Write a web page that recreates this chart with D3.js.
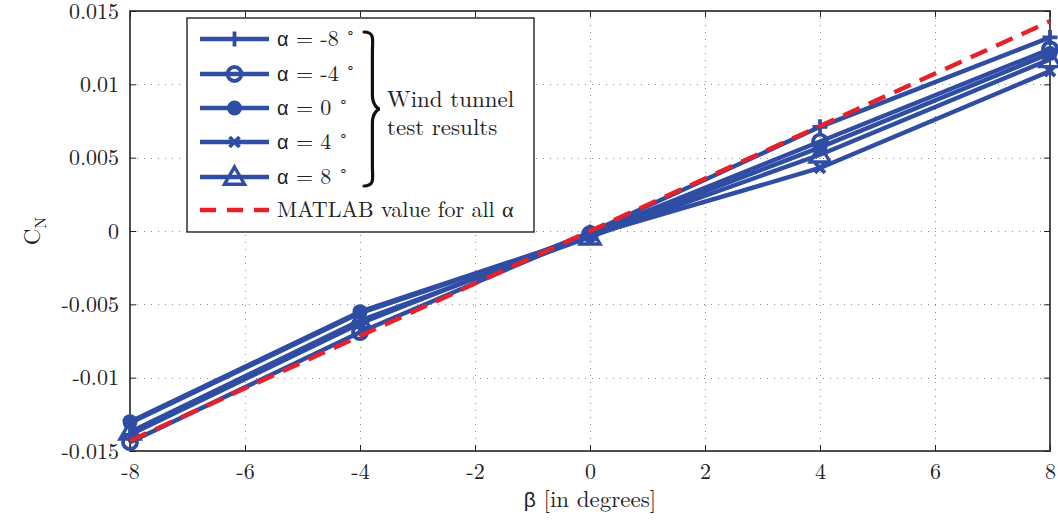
<!DOCTYPE html>
<html>
<head>
<meta charset="utf-8">
<script src="https://cdn.jsdelivr.net/npm/d3@7"></script>
<style>
  html, body { margin: 0; padding: 0; background: #fff; }
  svg { display: block; }
</style>
</head>
<body>
<script>
// Side-force coefficient vs. sideslip angle
const betaDeg = [-8, -4, 0, 4, 8];
const xTicks = [-8, -6, -4, -2, 0, 2, 4, 6, 8];
const xTickLabels = ["-8", "-6", "-4", "-2", "0", "2", "4", "6", "8"];
const yTicks = [-0.015, -0.01, -0.005, 0, 0.005, 0.01, 0.015];
const yTickLabels = ["-0.015", "-0.01", "-0.005", "0", "0.005", "0.01", "0.015"];

const alphaLabels = ["-8", "-4", "0", "4", "8"];
const markerKinds = ["plus", "ocircle", "circle", "cross", "triangle"];
const cnAlphaM8 = [-0.0139, -0.0063, -0.0001, 0.0071, 0.0132];
const cnAlphaM4 = [-0.0144, -0.0069, -0.0002, 0.0061, 0.0124];
const cnAlpha0  = [-0.0130, -0.0055, -0.0003, 0.0057, 0.0121];
const cnAlpha4  = [-0.0131, -0.0056, -0.0003, 0.0043, 0.0109];
const cnAlpha8  = [-0.0137, -0.0061, -0.0004, 0.0052, 0.0117];
const cnMatlab  = [-0.0143, -0.00716, 0, 0.00716, 0.0143];

const windSeries = [cnAlphaM8, cnAlphaM4, cnAlpha0, cnAlpha4, cnAlpha8];

const W = 1058, H = 521;
const M = { left: 130, right: 8, top: 11, bottom: 70 };
const blue = "#2e4da3", red = "#e8202a", ink = "#222";
const SERIF = "'Latin Modern Roman', 'Liberation Serif', serif";
const SANS = "'Liberation Sans', 'DejaVu Sans', sans-serif";

const svg = d3.select("body").append("svg").attr("width", W).attr("height", H);

const x = d3.scaleLinear().domain([-8, 8]).range([M.left, W - M.right]);
const y = d3.scaleLinear().domain([-0.015, 0.015]).range([H - M.bottom, M.top]);

const x0 = x.range()[0], x1 = x.range()[1], y0 = y.range()[0], y1 = y.range()[1];

function serifText(sel, size) {
  return sel.style("font-family", SERIF).style("font-size", size + "px").attr("fill", ink);
}

// dotted grid
const grid = svg.append("g").attr("stroke", "#888").attr("stroke-width", 1)
  .attr("stroke-dasharray", "1,6");
grid.selectAll(".gx").data(xTicks.slice(1, -1)).join("line")
  .attr("x1", d => Math.round(x(d)) + 0.5).attr("x2", d => Math.round(x(d)) + 0.5)
  .attr("y1", y1).attr("y2", y0);
grid.selectAll(".gy").data(yTicks.slice(1, -1)).join("line")
  .attr("y1", d => Math.round(y(d)) + 0.5).attr("y2", d => Math.round(y(d)) + 0.5)
  .attr("x1", x0).attr("x2", x1);

// axes with inward ticks
const xAxis = d3.axisBottom(x).tickValues(xTicks).tickSize(-6).tickPadding(12)
  .tickFormat((d, i) => xTickLabels[i]);
const gx = svg.append("g").attr("transform", `translate(0,${y0})`).call(xAxis);
const yAxis = d3.axisLeft(y).tickValues(yTicks).tickSize(-6).tickPadding(11)
  .tickFormat((d, i) => yTickLabels[i]);
const gy = svg.append("g").attr("transform", `translate(${x0},0)`).call(yAxis);
// mirrored ticks on top and right
svg.append("g").attr("transform", `translate(0,${y1})`)
  .call(d3.axisTop(x).tickValues(xTicks).tickSize(-6).tickFormat(""));
svg.append("g").attr("transform", `translate(${x1},0)`)
  .call(d3.axisRight(y).tickValues(yTicks).tickSize(-6).tickFormat(""));
svg.selectAll(".domain").remove();
svg.selectAll(".tick line").attr("stroke", ink);
[gx, gy].forEach(g => serifText(g.selectAll(".tick text"), 22));

// axes box
svg.append("rect").attr("x", x0).attr("y", y1).attr("width", x1 - x0).attr("height", y0 - y1)
  .attr("fill", "none").attr("stroke", ink).attr("stroke-width", 1.6);

// marker drawing
function drawMarker(g, kind, cx, cy) {
  if (kind === "plus") {
    g.append("path").attr("d", `M${cx - 7.5},${cy}H${cx + 7.5}M${cx},${cy - 7.5}V${cy + 7.5}`)
      .attr("stroke", blue).attr("stroke-width", 3.8).attr("fill", "none");
  } else if (kind === "ocircle") {
    g.append("circle").attr("cx", cx).attr("cy", cy).attr("r", 7)
      .attr("fill", "none").attr("stroke", blue).attr("stroke-width", 3.8);
  } else if (kind === "circle") {
    g.append("circle").attr("cx", cx).attr("cy", cy).attr("r", 7.5).attr("fill", blue);
  } else if (kind === "cross") {
    const a = 5;
    g.append("path").attr("d", `M${cx - a},${cy - a}L${cx + a},${cy + a}M${cx - a},${cy + a}L${cx + a},${cy - a}`)
      .attr("stroke", blue).attr("stroke-width", 3.8).attr("fill", "none");
  } else if (kind === "triangle") {
    const a = 10;
    g.append("path").attr("d", `M${cx},${cy - a}L${cx + a},${cy + a * 0.72}L${cx - a},${cy + a * 0.72}Z`)
      .attr("stroke", blue).attr("stroke-width", 3.4).attr("fill", "none");
  }
}

const line = d3.line().x((d, i) => x(betaDeg[i])).y(d => y(d));

// wind tunnel series
const plot = svg.append("g");
windSeries.forEach((vals, si) => {
  const g = plot.append("g");
  g.append("path").datum(vals).attr("d", line)
    .attr("fill", "none").attr("stroke", blue).attr("stroke-width", 4.4)
    .attr("stroke-linejoin", "round");
  vals.forEach((v, i) => drawMarker(g, markerKinds[si], x(betaDeg[i]), y(v)));
});

// MATLAB prediction
svg.append("path").datum(cnMatlab).attr("d", line)
  .attr("fill", "none").attr("stroke", red).attr("stroke-width", 4.4)
  .attr("stroke-dasharray", "18,10");

// axis titles
const xl = serifText(svg.append("text"), 23).attr("x", (x0 + x1) / 2).attr("y", 507)
  .attr("text-anchor", "middle");
xl.append("tspan").style("font-family", SANS).style("font-size", "21px").text("β");
xl.append("tspan").text(" [in degrees]");
const yl = serifText(svg.append("text"), 23).attr("transform", `translate(40,${y(0)}) rotate(-90)`)
  .attr("text-anchor", "middle");
yl.append("tspan").text("C");
yl.append("tspan").attr("dy", 6).style("font-size", "16px").text("N");

// legend
const lg = svg.append("g");
lg.append("rect").attr("x", 187).attr("y", 18).attr("width", 347).attr("height", 214)
  .attr("fill", "#fff").attr("stroke", ink).attr("stroke-width", 1.4);
const rowY = [39, 74, 108, 142, 177];
alphaLabels.forEach((a, i) => {
  const cy = rowY[i];
  lg.append("line").attr("x1", 200).attr("x2", 269).attr("y1", cy).attr("y2", cy)
    .attr("stroke", blue).attr("stroke-width", 4.4);
  drawMarker(lg, markerKinds[i], 234.5, cy);
  const t = serifText(lg.append("text"), 22).attr("x", 277).attr("y", cy + 7);
  t.append("tspan").style("font-family", SANS).style("font-size", "20px").text("α");
  t.append("tspan").text(" = " + a + " ");
  t.append("tspan").attr("dy", -9).style("font-size", "14px").text("∘");
});
lg.append("line").attr("x1", 200).attr("x2", 269).attr("y1", 210).attr("y2", 210)
  .attr("stroke", red).attr("stroke-width", 4.4).attr("stroke-dasharray", "16,11");
serifText(lg.append("text"), 22).attr("x", 277).attr("y", 217).text("MATLAB value for all α");

// curly brace grouping the wind tunnel entries
const bx = 364, bTop = 32, bBot = 186, bMid = (bTop + bBot) / 2, bw = 14;
lg.append("path")
  .attr("d", `M${bx},${bTop} C${bx + bw * 0.8},${bTop} ${bx + bw * 0.6},${bTop + 8} ${bx + bw * 0.6},${bTop + 20}
    L${bx + bw * 0.6},${bMid - 14} C${bx + bw * 0.6},${bMid - 4} ${bx + bw},${bMid} ${bx + bw + 2},${bMid}
    C${bx + bw},${bMid} ${bx + bw * 0.6},${bMid + 4} ${bx + bw * 0.6},${bMid + 14}
    L${bx + bw * 0.6},${bBot - 20} C${bx + bw * 0.6},${bBot - 8} ${bx + bw * 0.8},${bBot} ${bx},${bBot}`)
  .attr("fill", "none").attr("stroke", "#111").attr("stroke-width", 3.2).attr("stroke-linecap", "round");
serifText(lg.append("text"), 23).attr("x", 387).attr("y", 107).text("Wind tunnel");
serifText(lg.append("text"), 23).attr("x", 387).attr("y", 135).text("test results");
</script>
</body>
</html>
